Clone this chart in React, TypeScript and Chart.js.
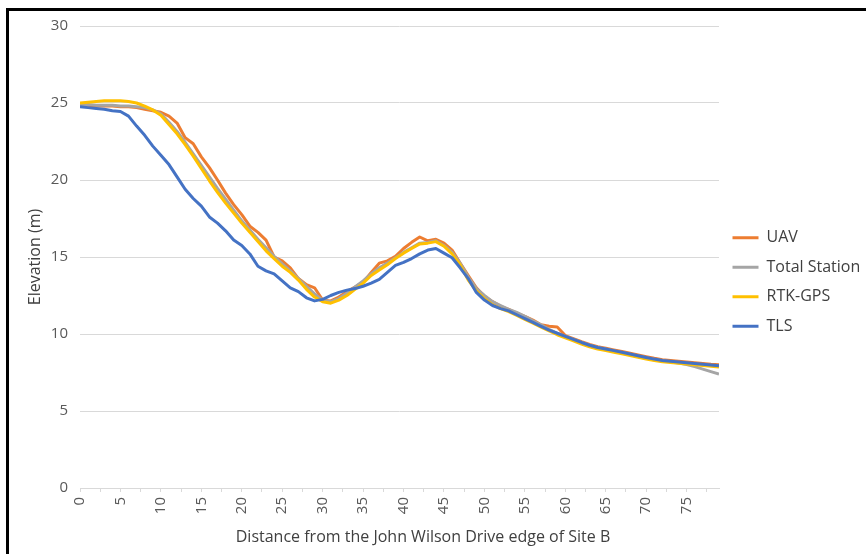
import { useEffect, useRef } from 'react';
import { Chart, registerables } from 'chart.js';

Chart.register(...registerables);

const distance = [
  0, 1, 2, 3, 4, 5, 6, 7, 8, 9, 10, 11, 12, 13, 14, 15, 16, 17, 18, 19,
  20, 21, 22, 23, 24, 25, 26, 27, 28, 29, 30, 31, 32, 33, 34, 35, 36, 37, 38, 39,
  40, 41, 42, 43, 44, 45, 46, 47, 48, 49, 50, 51, 52, 53, 54, 55, 56, 57, 58, 59,
  60, 61, 62, 63, 64, 65, 66, 67, 68, 69, 70, 71, 72, 73, 74, 75, 76, 77, 78, 79,
];

const uav = [
  24.85, 24.85, 24.8, 24.8, 24.8, 24.75, 24.75, 24.7, 24.6, 24.5,
  24.4, 24.15, 23.7, 22.75, 22.35, 21.5, 20.8, 20.0, 19.15, 18.4,
  17.75, 17.0, 16.6, 16.1, 15.0, 14.75, 14.3, 13.6, 13.2, 13.0,
  12.2, 12.15, 12.4, 12.75, 13.05, 13.35, 14.0, 14.6, 14.75, 15.05,
  15.55, 15.95, 16.3, 16.05, 16.15, 15.9, 15.45, 14.6, 13.8, 13.0,
  12.45, 12.1, 11.8, 11.6, 11.35, 11.15, 10.9, 10.6, 10.5, 10.45,
  9.9, 9.7, 9.5, 9.32, 9.17, 9.07, 8.97, 8.87, 8.75, 8.64,
  8.53, 8.42, 8.33, 8.28, 8.23, 8.18, 8.13, 8.08, 8.03, 8.0,
];

const totalStation = [
  24.9, 24.9, 24.85, 24.85, 24.85, 24.8, 24.8, 24.75, 24.7, 24.55,
  24.3, 23.75, 23.15, 22.45, 21.7, 20.95, 20.2, 19.45, 18.75, 18.05,
  17.35, 16.75, 16.15, 15.6, 15.05, 14.55, 14.1, 13.6, 13.1, 12.6,
  12.2, 12.1, 12.3, 12.65, 13.05, 13.45, 13.9, 14.3, 14.6, 14.95,
  15.3, 15.6, 15.9, 15.95, 16.05, 15.75, 15.3, 14.6, 13.7, 12.95,
  12.5, 12.1, 11.85, 11.6, 11.4, 11.15, 10.85, 10.6, 10.3, 10.05,
  9.85, 9.65, 9.45, 9.27, 9.12, 9.02, 8.9, 8.8, 8.68, 8.57,
  8.46, 8.35, 8.26, 8.2, 8.12, 8.02, 7.88, 7.72, 7.56, 7.4,
];

const rtkGps = [
  25.0, 25.05, 25.1, 25.15, 25.15, 25.15, 25.1, 25.0, 24.8, 24.55,
  24.2, 23.6, 23.0, 22.3, 21.55, 20.75, 19.95, 19.2, 18.5, 17.85,
  17.2, 16.6, 16.0, 15.4, 14.9, 14.4, 14.0, 13.5, 12.9, 12.4,
  12.1, 12.0, 12.2, 12.5, 12.9, 13.3, 13.8, 14.15, 14.5, 14.9,
  15.25, 15.55, 15.85, 15.9, 16.0, 15.7, 15.2, 14.5, 13.5, 12.8,
  12.3, 11.9, 11.65, 11.45, 11.2, 10.95, 10.7, 10.45, 10.2, 9.95,
  9.75, 9.55, 9.35, 9.17, 9.02, 8.92, 8.82, 8.72, 8.6, 8.49,
  8.38, 8.28, 8.2, 8.15, 8.1, 8.05, 8.0, 7.95, 7.9, 7.85,
];

const tls = [
  24.75, 24.7, 24.65, 24.6, 24.5, 24.45, 24.15, 23.5, 22.9, 22.2,
  21.6, 21.0, 20.2, 19.4, 18.8, 18.3, 17.6, 17.2, 16.7, 16.1,
  15.75, 15.2, 14.4, 14.1, 13.9, 13.45, 13.0, 12.75, 12.35, 12.15,
  12.25, 12.5, 12.7, 12.85, 12.95, 13.1, 13.3, 13.55, 14.0, 14.45,
  14.65, 14.9, 15.2, 15.45, 15.55, 15.25, 14.95, 14.3, 13.6, 12.7,
  12.2, 11.85, 11.65, 11.5, 11.25, 11.0, 10.75, 10.5, 10.25, 10.05,
  9.85, 9.65, 9.45, 9.27, 9.12, 9.02, 8.92, 8.82, 8.7, 8.59,
  8.48, 8.37, 8.28, 8.23, 8.18, 8.13, 8.09, 8.04, 7.98, 7.93,
];

const seriesNames = ['UAV', 'Total Station', 'RTK-GPS', 'TLS'];
const seriesColors = ['#ED7D31', '#A5A5A5', '#FFC000', '#4472C4'];
const xTitle = 'Distance from the John Wilson Drive edge of Site B';
const yTitle = 'Elevation (m)';

const TEXT = '#404040';
const TICK = '#595959';
const GRID = '#d9d9d9';

const toPoints = (vals: number[]) => vals.map((y, i) => ({ x: distance[i], y }));

export default function App() {
  const ref = useRef<HTMLCanvasElement | null>(null);

  useEffect(() => {
    if (!ref.current) return;
    Chart.defaults.font.family = '"Open Sans", sans-serif';
    const all = [uav, totalStation, rtkGps, tls];
    const chart = new Chart(ref.current, {
      type: 'line',
      data: {
        datasets: all.map((vals, i) => ({
          label: seriesNames[i],
          data: toPoints(vals),
          borderColor: seriesColors[i],
          backgroundColor: seriesColors[i],
          borderWidth: 3,
          pointRadius: 0,
          tension: 0,
          borderJoinStyle: 'round' as const,
          order: 4 - i,
        })),
      },
      options: {
        responsive: false,
        animation: false,
        devicePixelRatio: 1,
        layout: { padding: { left: 0, right: 0, top: 26, bottom: 16 } },
        scales: {
          x: {
            type: 'linear',
            min: 0,
            max: 79,
            ticks: {
              stepSize: 2.5,
              includeBounds: false,
              autoSkip: false,
              minRotation: 90,
              maxRotation: 90,
              padding: 5,
              color: TICK,
              font: { size: 15 },
              callback: (v: any) => (Number(v) % 5 === 0 ? String(v) : ''),
            },
            grid: { drawOnChartArea: false, drawTicks: true, tickLength: 4, color: GRID },
            border: { display: true, color: GRID, width: 1 },
            afterFit: (s: any) => {
              s.height = 39.4;
            },
          },
          y: {
            min: 0,
            max: 30,
            ticks: { stepSize: 5, padding: 12, color: TICK, font: { size: 15 } },
            grid: { color: GRID, drawTicks: false },
            border: { display: false },
            title: {
              display: true,
              text: yTitle,
              color: TEXT,
              font: { size: 16 },
              padding: { top: 45.4, bottom: 0 },
            },
            afterFit: (s: any) => {
              s.width = 100;
            },
          },
        },
        plugins: {
          legend: {
            position: 'right',
            align: 'center',
            maxWidth: 147,
            labels: {
              usePointStyle: true,
              pointStyle: 'line',
              pointStyleWidth: 26,
              boxWidth: 26,
              padding: 13.5,
              color: TEXT,
              font: { size: 16 },
              sort: (a: any, b: any) => a.datasetIndex - b.datasetIndex,
            },
          },
          title: {
            display: true,
            position: 'bottom',
            text: xTitle,
            color: TEXT,
            font: { size: 16, weight: 'normal' },
            padding: { top: 0, bottom: -8.6 },
          },
          tooltip: { enabled: false },
        },
      } as any,
    });
    return () => chart.destroy();
  }, []);

  return (
    <div
      style={{
        position: 'fixed',
        left: 0,
        top: 0,
        width: 866,
        height: 554,
        overflow: 'hidden',
        background: '#fff',
      }}
    >
      <canvas
        ref={ref}
        width={886}
        height={554}
        style={{ position: 'absolute', left: -20, top: 0, width: 886, height: 554 }}
      />
      <div
        style={{
          position: 'absolute',
          left: 6,
          top: 8,
          right: -10,
          bottom: -10,
          borderLeft: '3px solid #000',
          borderTop: '3px solid #000',
          pointerEvents: 'none',
        }}
      />
    </div>
  );
}
